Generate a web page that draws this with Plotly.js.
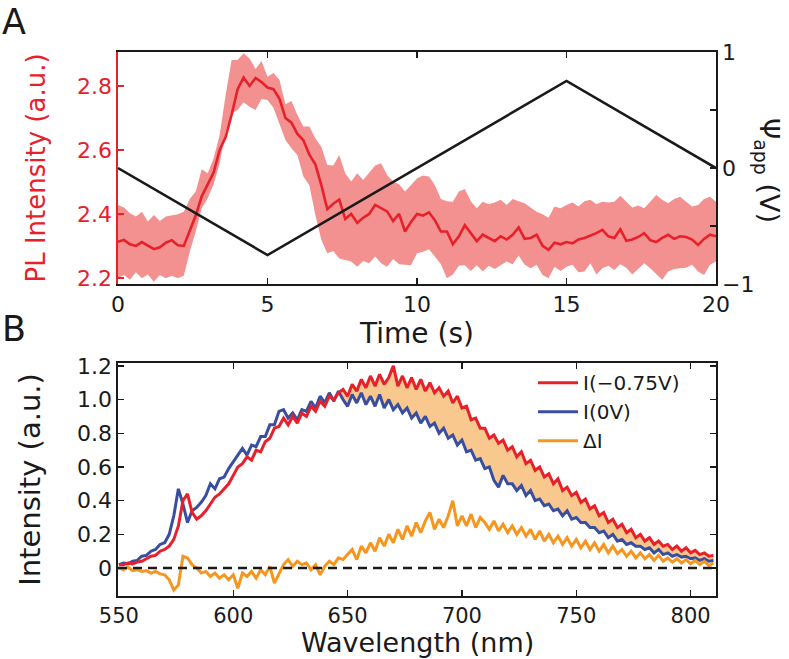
<!DOCTYPE html>
<html><head><meta charset="utf-8">
<script src="https://cdn.plot.ly/plotly-3.0.1.min.js"></script>
<style>html,body{margin:0;padding:0;background:#fff}#chart{width:789px;height:659px}</style>
</head><body><div id="chart"></div>
<script>
// ---------- Panel A data ----------
const time = [0,0.2,0.4,0.6,0.8,1,1.2,1.4,1.6,1.8,
2,2.2,2.4,2.6,2.8,3,3.2,3.4,3.6,3.8,
4,4.2,4.4,4.6,4.8,5,5.2,5.4,5.6,5.8,
6,6.2,6.4,6.6,6.8,7,7.2,7.4,7.6,7.8,
8,8.2,8.4,8.6,8.8,9,9.2,9.4,9.6,9.8,
10,10.2,10.4,10.6,10.8,11,11.2,11.4,11.6,11.8,
12,12.2,12.4,12.6,12.8,13,13.2,13.4,13.6,13.8,
14,14.2,14.4,14.6,14.8,15,15.2,15.4,15.6,15.8,
16,16.2,16.4,16.6,16.8,17,17.2,17.4,17.6,17.8,
18,18.2,18.4,18.6,18.8,19,19.2,19.4,19.6,19.8,
20];
const plMean = [2.313,2.319,2.305,2.300,2.312,2.300,2.290,2.296,2.310,2.318,
2.302,2.300,2.345,2.395,2.455,2.495,2.530,2.600,2.640,2.710,
2.790,2.826,2.800,2.825,2.812,2.795,2.790,2.760,2.700,2.685,
2.650,2.630,2.585,2.555,2.490,2.415,2.432,2.445,2.384,2.400,
2.372,2.388,2.400,2.428,2.418,2.408,2.378,2.400,2.345,2.375,
2.400,2.395,2.405,2.380,2.345,2.345,2.305,2.330,2.365,2.340,
2.315,2.335,2.325,2.315,2.330,2.320,2.335,2.358,2.322,2.325,
2.335,2.300,2.288,2.310,2.305,2.312,2.308,2.320,2.325,2.332,
2.340,2.350,2.330,2.325,2.352,2.316,2.320,2.328,2.340,2.318,
2.312,2.325,2.335,2.322,2.330,2.328,2.320,2.303,2.322,2.335,
2.330];
const plUpper = [2.428,2.420,2.402,2.392,2.407,2.376,2.397,2.378,2.392,2.395,
2.399,2.407,2.447,2.470,2.540,2.527,2.574,2.647,2.772,2.881,
2.881,2.902,2.886,2.853,2.878,2.829,2.840,2.819,2.743,2.753,
2.709,2.673,2.673,2.636,2.610,2.553,2.551,2.584,2.527,2.501,
2.527,2.506,2.527,2.551,2.558,2.522,2.501,2.493,2.470,2.491,
2.511,2.520,2.517,2.490,2.447,2.440,2.438,2.470,2.478,2.440,
2.418,2.438,2.430,2.436,2.444,2.428,2.447,2.440,2.433,2.420,
2.407,2.399,2.388,2.423,2.418,2.428,2.436,2.423,2.440,2.444,
2.430,2.438,2.436,2.438,2.457,2.438,2.420,2.426,2.418,2.438,
2.459,2.444,2.433,2.447,2.454,2.438,2.423,2.428,2.447,2.454,
2.438];
const plLower = [2.199,2.209,2.194,2.218,2.199,2.211,2.188,2.209,2.199,2.207,
2.199,2.207,2.282,2.345,2.418,2.449,2.493,2.558,2.657,2.714,
2.725,2.749,2.735,2.725,2.759,2.756,2.732,2.683,2.631,2.605,
2.584,2.517,2.490,2.397,2.319,2.277,2.284,2.261,2.256,2.251,
2.235,2.253,2.246,2.267,2.246,2.235,2.259,2.243,2.241,2.240,
2.277,2.282,2.290,2.267,2.243,2.199,2.211,2.238,2.240,2.222,
2.240,2.220,2.238,2.228,2.240,2.251,2.243,2.270,2.241,2.230,
2.241,2.209,2.199,2.235,2.222,2.235,2.241,2.218,2.220,2.246,
2.211,2.230,2.238,2.225,2.243,2.232,2.211,2.228,2.246,2.230,
2.211,2.194,2.220,2.228,2.230,2.232,2.241,2.220,2.209,2.241,
2.251];
const rampTime = [0,5,15,20];
const rampVolt = [0,-0.75,0.75,0];
const timeTicks = [0,5,10,15,20];
const plTicks = [2.2,2.4,2.6,2.8];
const voltTicks = [-1,0,1];
const voltTickText = ['\u22121','0','1'];

// ---------- Panel B data ----------
const wavelength = [550,552,554,556,558,560,562,564,566,568,
570,572,574,576,578,580,582,584,586,588,
590,592,594,596,598,600,602,604,606,608,
610,612,614,616,618,620,622,624,626,628,
630,632,634,636,638,640,642,644,646,648,
650,652,654,656,658,660,662,664,666,668,
670,672,674,676,678,680,682,684,686,688,
690,692,694,696,698,700,702,704,706,708,
710,712,714,716,718,720,722,724,726,728,
730,732,734,736,738,740,742,744,746,748,
750,752,754,756,758,760,762,764,766,768,
770,772,774,776,778,780,782,784,786,788,
790,792,794,796,798,800,802,804,806,808,
810];
const intensityNeg = [0.02,0.02,0.03,0.025,0.035,0.04,0.055,0.07,0.075,0.10,
0.11,0.13,0.17,0.25,0.40,0.44,0.33,0.29,0.31,0.34,
0.38,0.42,0.44,0.47,0.50,0.55,0.60,0.62,0.66,0.64,
0.70,0.69,0.75,0.77,0.83,0.84,0.89,0.85,0.90,0.86,
0.92,0.90,0.96,0.93,0.99,0.96,1.02,1.00,1.04,1.06,
1.02,1.09,1.05,1.12,1.07,1.14,1.08,1.15,1.09,1.13,
1.20,1.08,1.14,1.07,1.13,1.06,1.12,1.05,1.10,1.04,
1.07,1.02,1.05,0.98,1.02,0.95,0.96,0.88,0.89,0.83,
0.83,0.77,0.79,0.74,0.76,0.70,0.72,0.66,0.69,0.62,
0.64,0.58,0.60,0.54,0.56,0.50,0.53,0.46,0.48,0.43,
0.45,0.39,0.41,0.35,0.37,0.31,0.33,0.27,0.29,0.24,
0.26,0.21,0.23,0.18,0.20,0.16,0.18,0.14,0.16,0.13,
0.14,0.11,0.13,0.10,0.12,0.09,0.105,0.08,0.09,0.07,
0.075];
const intensityZero = [0.02,0.03,0.025,0.04,0.045,0.07,0.075,0.10,0.11,0.14,
0.15,0.20,0.31,0.47,0.38,0.27,0.34,0.36,0.39,0.43,
0.50,0.47,0.53,0.54,0.59,0.63,0.67,0.71,0.67,0.73,
0.72,0.78,0.78,0.85,0.85,0.93,0.94,0.89,0.92,0.88,
0.94,0.93,0.99,0.95,1.02,0.98,1.04,0.99,1.05,1.00,
0.96,1.03,0.98,1.04,0.97,1.02,0.96,1.03,0.95,1.00,
0.94,0.97,0.92,0.95,0.89,0.92,0.86,0.90,0.84,0.86,
0.80,0.83,0.77,0.79,0.73,0.76,0.69,0.70,0.64,0.65,
0.59,0.60,0.52,0.48,0.55,0.50,0.50,0.46,0.49,0.43,
0.46,0.40,0.41,0.37,0.38,0.34,0.35,0.31,0.34,0.29,
0.30,0.27,0.27,0.24,0.24,0.21,0.22,0.18,0.20,0.16,
0.17,0.14,0.15,0.13,0.13,0.11,0.12,0.09,0.11,0.08,
0.09,0.07,0.08,0.065,0.07,0.055,0.06,0.045,0.055,0.04,
0.045];
const deltaI = [0.00,-0.01,0.005,-0.015,-0.01,-0.02,-0.015,-0.03,-0.02,-0.035,
-0.04,-0.07,-0.13,-0.10,0.07,0.06,0.02,0.00,-0.03,-0.02,
-0.05,-0.03,-0.06,-0.04,-0.07,-0.04,-0.12,-0.03,-0.05,-0.02,
-0.06,-0.01,-0.04,0.01,-0.09,-0.03,0.02,0.05,0.01,0.04,
0.02,0.03,-0.01,0.02,-0.04,0.01,0.04,0.02,0.06,0.05,
0.08,0.11,0.05,0.13,0.09,0.15,0.10,0.18,0.13,0.20,
0.15,0.23,0.17,0.25,0.19,0.27,0.21,0.28,0.33,0.23,
0.29,0.24,0.31,0.40,0.25,0.31,0.25,0.32,0.24,0.30,
0.27,0.23,0.28,0.22,0.26,0.21,0.25,0.20,0.24,0.19,
0.23,0.17,0.22,0.16,0.20,0.15,0.19,0.14,0.18,0.13,
0.17,0.12,0.16,0.11,0.15,0.10,0.14,0.09,0.13,0.085,
0.11,0.07,0.10,0.06,0.09,0.055,0.08,0.045,0.075,0.04,
0.06,0.035,0.055,0.03,0.05,0.025,0.045,0.02,0.04,0.015,
0.03];
const seriesNames = ['I(\u22120.75V)','I(0V)','\u0394I'];
const wlTicks = [550,600,650,700,750,800];
const intTicks = [0,0.2,0.4,0.6,0.8,1.0,1.2];
const intTickText = ['0','0.2','0.4','0.6','0.8','1.0','1.2'];
const fillStartWl = 644;

// ---------- styling ----------
const RED = '#e8202a', PINK = '#f39191', BLUE = '#3a4ea1', ORANGE = '#f7961e', FILL = '#f9c88e', INK = '#1a1a1a';
const FONT = 'DejaVu Sans, Liberation Sans, Arial, sans-serif';

const k = wavelength.indexOf(fillStartWl);
const fillX = wavelength.slice(k).concat(wavelength.slice(k).reverse());
const fillY = intensityNeg.slice(k).concat(intensityZero.slice(k).reverse());

const traces = [
  {x: time, y: plLower, xaxis:'x', yaxis:'y', mode:'lines', line:{width:0, color:PINK}, showlegend:false, hoverinfo:'skip'},
  {x: time, y: plUpper, xaxis:'x', yaxis:'y', mode:'lines', line:{width:0, color:PINK}, fill:'tonexty', fillcolor:PINK, showlegend:false, hoverinfo:'skip'},
  {x: time, y: plMean, xaxis:'x', yaxis:'y', mode:'lines', line:{width:2.6, color:RED}, showlegend:false},
  {x: rampTime, y: rampVolt, xaxis:'x', yaxis:'y2', mode:'lines', line:{width:2.6, color:INK}, showlegend:false},
  {x: fillX, y: fillY, xaxis:'x2', yaxis:'y3', mode:'lines', line:{width:0}, fill:'toself', fillcolor:FILL, showlegend:false, hoverinfo:'skip'},
  {x: wavelength, y: intensityZero, xaxis:'x2', yaxis:'y3', mode:'lines', name: seriesNames[1], legendrank:2, line:{width:3, color:BLUE}},
  {x: wavelength, y: intensityNeg, xaxis:'x2', yaxis:'y3', mode:'lines', name: seriesNames[0], legendrank:1, line:{width:3, color:RED}},
  {x: wavelength, y: deltaI, xaxis:'x2', yaxis:'y3', mode:'lines', name: seriesNames[2], legendrank:3, line:{width:3, color:ORANGE}}
];

const axBase = {showgrid:false, zeroline:false, showline:true, linewidth:1.6, linecolor:INK,
  ticks:'inside', ticklen:6, tickwidth:1.4, tickcolor:INK, tickfont:{size:22, color:INK}};

const layout = {
  width:789, height:659,
  margin:{l:118, r:73, t:52, b:63},
  paper_bgcolor:'#fff', plot_bgcolor:'#fff',
  font:{family:FONT, color:INK},
  showlegend:true,
  legend:{x:0.694, xanchor:'left', y:0.428, yanchor:'top', traceorder:'normal', bgcolor:'rgba(0,0,0,0)', font:{size:20, color:INK}, tracegroupgap:0, itemwidth:40},
  xaxis: Object.assign({}, axBase, {domain:[0,1], anchor:'y', range:[0,20], tickvals:timeTicks, mirror:'ticks',
    title:{text:'Time (s)', font:{size:28}, standoff:2}}),
  yaxis: Object.assign({}, axBase, {domain:[0.5735,1], anchor:'x', range:[2.181,2.906], tickvals:plTicks,
    ticktext: plTicks.map(v=>v.toFixed(1)), linecolor:RED, tickcolor:RED, tickfont:{size:22, color:RED},
    title:{text:'PL Intensity (a.u.)', font:{size:26, color:RED}, standoff:24}}),
  yaxis2: Object.assign({}, axBase, {overlaying:'y', side:'right', anchor:'x', range:[-1,1], tickvals:voltTicks, ticktext:voltTickText,
    minor:{dtick:0.5, ticks:'inside', ticklen:6, tickwidth:1.4, tickcolor:INK, showgrid:false}}),
  xaxis2: Object.assign({}, axBase, {domain:[0,1], anchor:'y3', range:[549.6,811.1], tickvals:wlTicks, mirror:'ticks',
    tickfont:{size:21, color:INK}}),
  yaxis3: Object.assign({}, axBase, {domain:[0,0.4283], anchor:'x2', range:[-0.166,1.217], tickvals:intTicks, ticktext:intTickText, mirror:'ticks',
    title:{text:'Intensity (a.u.)', font:{size:29}, standoff:28}}),
  shapes:[{type:'line', xref:'x2 domain', x0:0, x1:1, yref:'y3', y0:0, y1:0, layer:'above',
    line:{color:INK, width:2.6, dash:'9px,6px'}}],
  annotations:[
    {text:'A', xref:'paper', yref:'paper', x:-0.197, y:1.055, xanchor:'left', yanchor:'middle', showarrow:false, font:{size:35, color:INK}},
    {text:'B', xref:'paper', yref:'paper', x:-0.197, y:0.491, xanchor:'left', yanchor:'middle', showarrow:false, font:{size:35, color:INK}},
    {text:'Wavelength (nm)', xref:'paper', yref:'paper', x:0.5, y:-0.085, xanchor:'center', yanchor:'middle', showarrow:false, font:{size:27, color:INK}},
    {text:'\u03A8<sub>app</sub> (V)', xref:'paper', yref:'paper', x:1.087, y:0.783, xanchor:'center', yanchor:'middle', textangle:90, showarrow:false, font:{size:27, color:INK}}
  ]
};

Plotly.newPlot('chart', traces, layout, {displayModeBar:false, staticPlot:true});
</script>
</body></html>
